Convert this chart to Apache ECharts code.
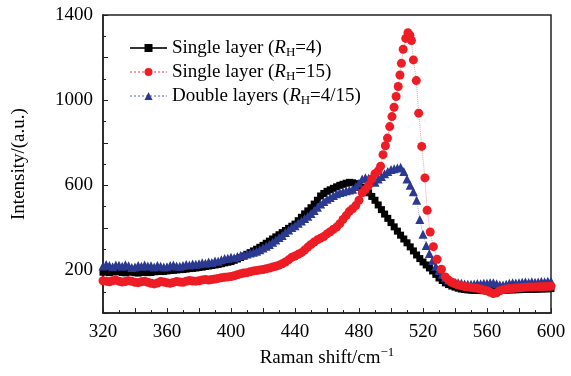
<!DOCTYPE html>
<html>
<head>
<meta charset="utf-8">
<script src="https://cdn.jsdelivr.net/npm/echarts@6/dist/echarts.min.js"></script>
<style>
  html, body { margin: 0; padding: 0; background: #fff; }
  #chart { width: 571px; height: 376px; }
</style>
</head>
<body>
<div id="chart"></div>
<script>
// Raman spectra, shift in cm^-1
const shiftX = [
  320, 322, 324, 326, 328, 330, 332, 334, 336, 338, 340, 342, 344, 346, 348, 350, 352, 354, 356, 358,
  360, 362, 364, 366, 368, 370, 372, 374, 376, 378, 380, 382, 384, 386, 388, 390, 392, 394, 396, 398,
  400, 402, 404, 406, 408, 410, 412, 414, 416, 418, 420, 422, 424, 426, 428, 430, 432, 434, 436, 438,
  440, 442, 444, 446, 448, 450, 452, 454, 456, 458, 460, 462, 464, 466, 468, 470, 472, 474, 476, 478,
  480, 482, 484, 486, 488, 490, 492, 494, 496, 498, 500, 502, 504, 506, 508, 510, 512, 514, 516, 518,
  520, 522, 524, 526, 528, 530, 532, 534, 536, 538, 540, 542, 544, 546, 548, 550, 552, 554, 556, 558,
  560, 562, 564, 566, 568, 570, 572, 574, 576, 578, 580, 582, 584, 586, 588, 590, 592, 594, 596, 598,
  600
]

const singleRH4 = [
  192, 195, 190, 193, 196, 194, 191, 189, 192, 195, 190, 188, 191, 193, 190, 191, 194, 197, 195, 196,
  198, 200, 201, 203, 204, 205, 207, 209, 210, 212, 214, 216, 219, 221, 224, 226, 229, 232, 236, 239,
  242, 248, 254, 261, 268, 276, 284, 292, 300, 309, 318, 328, 338, 348, 358, 368, 378, 388, 398, 408,
  418, 434, 450, 466, 480, 495, 512, 530, 550, 562, 572, 579, 586, 593, 600, 605, 610, 614, 612, 608,
  600, 590, 578, 565, 548, 530, 508, 486, 465, 445, 425, 405, 385, 366, 348, 330, 311, 292, 273, 256,
  240, 226, 212, 198, 182, 165, 153, 142, 134, 127, 122, 117, 113, 111, 109, 108, 107, 106, 106, 105,
  105, 105, 106, 106, 107, 108, 108, 109, 109, 110, 110, 111, 111, 111, 112, 112, 113, 113, 114, 114,
  115
]

const doubleRH = [
  221, 228, 224, 218, 226, 225, 220, 227, 222, 214, 216, 224, 220, 226, 221, 222, 216, 224, 220, 217,
  218, 223, 226, 221, 220, 224, 228, 226, 231, 229, 232, 236, 234, 240, 238, 245, 243, 250, 256, 258,
  262, 260, 266, 270, 273, 278, 282, 286, 290, 297, 306, 314, 322, 333, 343, 355, 365, 378, 390, 402,
  410, 422, 432, 444, 455, 468, 482, 497, 512, 524, 535, 543, 552, 560, 566, 570, 575, 578, 582, 595,
  610, 630, 636, 633, 622, 615, 630, 642, 655, 665, 674, 678, 682, 685, 665, 630, 600, 570, 530, 440,
  370, 318, 280, 248, 220, 200, 182, 166, 155, 149, 145, 142, 140, 137, 136, 135, 137, 139, 138, 140,
  140, 142, 143, 138, 133, 132, 136, 140, 142, 141, 143, 145, 146, 144, 147, 145, 146, 148, 147, 149,
  150
]

// RH=15 has its own sampling, denser through the sharp peak
const singleRH15X = [
  320, 322, 324, 326, 328, 330, 332, 334, 336, 338, 340, 342, 344, 346, 348, 350, 352, 354, 356, 358,
  360, 362, 364, 366, 368, 370, 372, 374, 376, 378, 380, 382, 384, 386, 388, 390, 392, 394, 396, 398,
  400, 402, 404, 406, 408, 410, 412, 414, 416, 418, 420, 422, 424, 426, 428, 430, 432, 434, 436, 438,
  440, 442, 444, 446, 448, 450, 452, 454, 456, 458, 460, 462, 464, 466, 468, 470, 472, 474, 476, 478,
  480, 482, 484, 486, 488, 490, 492, 493.5, 495, 496.5, 497.8, 499.2, 500.6, 501.9, 503.2, 504.5,
  505.6, 506.5, 507.6, 509.2, 510.6, 511.8, 512.8, 514, 515.8, 517.3, 519.2, 521.2, 522.6, 524.5,
  526.5, 528.8, 531.5, 534, 536, 538, 540, 542, 544, 546, 548, 550, 552, 554, 556, 558,
  560, 562, 564, 566, 568, 570, 572, 574, 576, 578, 580, 582, 584, 586, 588, 590, 592, 594, 596, 598,
  600
]

const singleRH15 = [
  152, 150, 147, 152, 155, 150, 146, 148, 152, 149, 145, 143, 147, 150, 145, 140, 137, 141, 148, 146,
  142, 140, 144, 148, 146, 145, 149, 153, 151, 150, 152, 156, 158, 155, 158, 160, 163, 166, 168, 170,
  172, 175, 180, 185, 188, 190, 194, 198, 200, 203, 205, 208, 212, 216, 220, 225, 232, 240, 250, 262,
  268, 276, 284, 296, 310, 322, 334, 344, 352, 360, 372, 382, 394, 404, 420, 440, 458, 478, 490, 505,
  530, 565, 580, 600, 630, 655, 668, 690, 744, 786, 822, 876, 923, 967, 1017, 1064,
  1118, 1173, 1239, 1290, 1317, 1305, 1280, 1189, 1092, 939, 783, 635, 483, 381,
  312, 253, 206, 170, 155, 145, 138, 132, 128, 125, 123, 120, 118, 117, 113, 108,
  105, 98, 92, 95, 105, 110, 113, 115, 116, 118, 119, 120, 121, 122, 122, 123, 124, 124, 125, 125,
  126
]

const xTickLabels = [320, 360, 400, 440, 480, 520, 560, 600]
const yTickLabels = [200, 600, 1000, 1400]

const FONT = '"Liberation Serif", "Times New Roman", serif'

function pairs(xs, ys) {
  return xs.map((x, i) => [x, ys[i]])
}

const legendRich = {
  n: { fontFamily: FONT, fontSize: 19, color: '#000', lineHeight: 24 },
  i: { fontFamily: FONT, fontSize: 19, color: '#000', lineHeight: 24, fontStyle: 'italic' },
  s: { fontFamily: FONT, fontSize: 13, color: '#000', lineHeight: 13, padding: [9, 0, 0, 0] }
}

const legendText = {
  single4: '{n|Single layer (}{i|R}{s|H}{n|=4)}',
  single15: '{n|Single layer (}{i|R}{s|H}{n|=15)}',
  double: '{n|Double layers (}{i|R}{s|H}{n|=4/15)}'
}

const chart = echarts.init(document.getElementById('chart'))

chart.setOption({
  animation: false,
  backgroundColor: '#fff',
  grid: {
    left: 103, right: 20, top: 15, bottom: 62,
    show: true, borderColor: '#222', borderWidth: 1.5
  },
  legend: {
    orient: 'vertical',
    left: 129,
    top: 37,
    padding: 0,
    itemWidth: 37,
    itemHeight: 10,
    itemGap: 2,
    data: ['single4', 'single15', 'double'],
    formatter: name => legendText[name],
    textStyle: { rich: legendRich }
  },
  xAxis: {
    type: 'value',
    min: 320,
    max: 600,
    interval: 20,
    name: '{n|Raman shift/cm}{p|\u22121}',
    nameLocation: 'middle',
    nameGap: 25,
    nameTextStyle: {
      rich: {
        n: { fontFamily: FONT, fontSize: 19, color: '#000', lineHeight: 24 },
        p: { fontFamily: FONT, fontSize: 13, color: '#000', lineHeight: 13, padding: [0, 0, 12, 0] }
      }
    },
    axisLine: { show: true, onZero: false, lineStyle: { color: '#222', width: 1.5 } },
    axisTick: { show: true, inside: true, length: 5, lineStyle: { color: '#222' } },
    minorTick: { show: true, splitNumber: 2, length: 3, lineStyle: { color: '#222' } },
    axisLabel: {
      margin: 9,
      fontFamily: FONT,
      fontSize: 19,
      color: '#000',
      formatter: v => (xTickLabels.includes(v) ? String(v) : '')
    },
    splitLine: { show: false }
  },
  yAxis: {
    type: 'value',
    min: 0,
    max: 1400,
    interval: 200,
    name: 'Intensity/(a.u.)',
    nameLocation: 'middle',
    nameGap: 74,
    nameTextStyle: { fontFamily: FONT, fontSize: 19, color: '#000' },
    axisLine: { show: true, onZero: false, lineStyle: { color: '#222', width: 1.5 } },
    axisTick: { show: true, inside: true, length: 5, lineStyle: { color: '#222' } },
    minorTick: { show: true, splitNumber: 2, length: 3, lineStyle: { color: '#222' } },
    axisLabel: {
      margin: 10,
      fontFamily: FONT,
      fontSize: 19,
      color: '#000',
      formatter: v => (yTickLabels.includes(v) ? String(v) : '')
    },
    splitLine: { show: false }
  },
  series: [
    {
      name: 'single4',
      type: 'line',
      data: pairs(shiftX, singleRH4),
      symbol: 'rect',
      symbolSize: 7,
      itemStyle: { color: '#000' },
      lineStyle: { color: '#333', width: 1 }
    },
    {
      name: 'double',
      type: 'line',
      data: pairs(shiftX, doubleRH),
      symbol: 'triangle',
      symbolSize: 9,
      itemStyle: { color: '#2b3990' },
      lineStyle: { color: '#a8b0dc', width: 1, type: 'dotted' }
    },
    {
      name: 'single15',
      type: 'line',
      data: pairs(singleRH15X, singleRH15),
      symbol: 'circle',
      symbolSize: 9,
      itemStyle: { color: '#ee1c25' },
      lineStyle: { color: '#f39aa8', width: 1, type: 'dotted' }
    }
  ]
})
</script>
</body>
</html>
